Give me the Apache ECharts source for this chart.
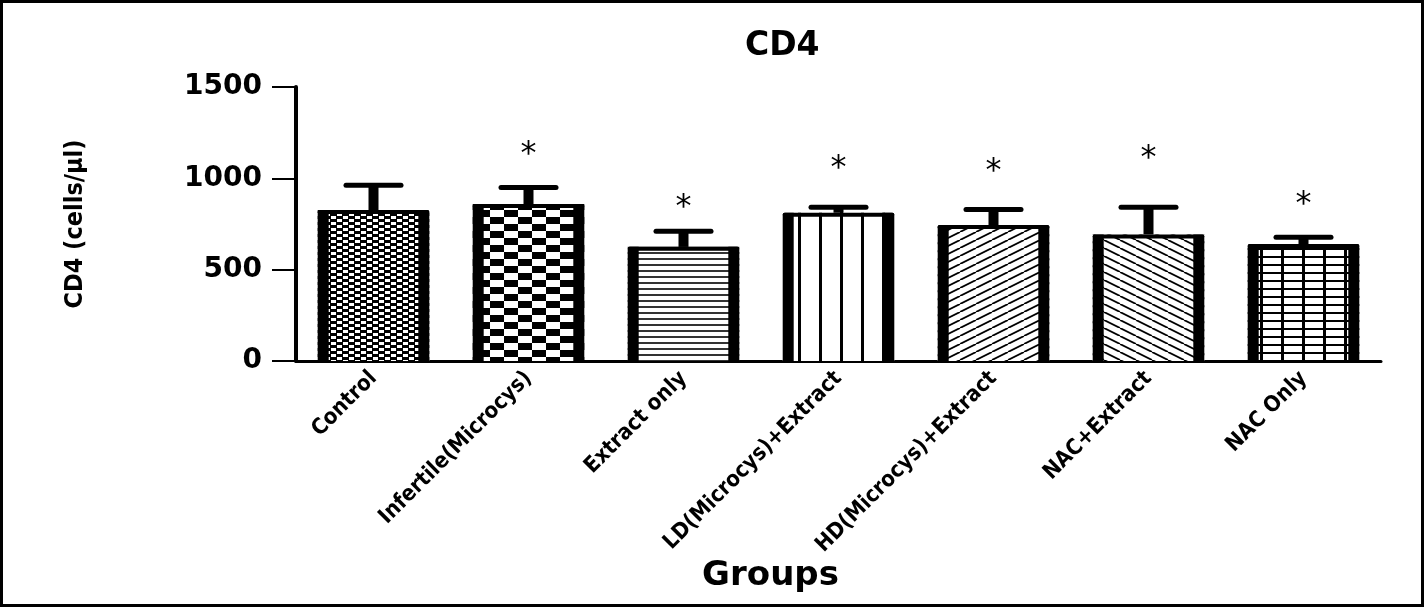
<!DOCTYPE html>
<html>
<head>
    <meta charset="utf-8" />
    <title>CD4</title>
    <script src="https://cdn.jsdelivr.net/npm/echarts@6/dist/echarts.min.js"></script>
    <style>
        html, body { margin: 0; padding: 0; background: #fff; }
        #main { width: 1425px; height: 608px; }
    </style>
</head>
<body>
<div id="main"></div>
<script type="text/javascript">
    // data
    var categories = ['Control', 'Infertile(Microcys)', 'Extract only', 'LD(Microcys)+Extract',
        'HD(Microcys)+Extract', 'NAC+Extract', 'NAC Only'];
    var means = [826, 859, 626, 812, 744, 693, 640];
    var errors = [139, 93, 87, 33, 88, 152, 40];
    var stars = [null, 1166, 876, 1089, 1073, 1144, 892];
    var yTicks = [0, 500, 1000, 1500];

    // fill patterns, one per group
    function makePattern(w, h, draw) {
        var c = document.createElement('canvas');
        c.width = w;
        c.height = h;
        var ctx = c.getContext('2d');
        ctx.fillStyle = '#fff';
        ctx.fillRect(0, 0, w, h);
        ctx.fillStyle = '#000';
        ctx.strokeStyle = '#000';
        draw(ctx, w, h);
        return { image: c, repeat: 'repeat' };
    }
    function diag(ctx, w, h, up) {
        ctx.lineWidth = 1.8;
        for (var k = -2; k <= 2; k++) {
            ctx.beginPath();
            if (up) {
                ctx.moveTo(k * w, h);
                ctx.lineTo(k * w + w, 0);
            } else {
                ctx.moveTo(k * w, 0);
                ctx.lineTo(k * w + w, h);
            }
            ctx.stroke();
        }
    }
    var patterns = [
        makePattern(12, 6, function (ctx) {
            ctx.fillRect(0, 0, 7, 3);
            ctx.fillRect(6, 3, 6, 3);
            ctx.fillRect(0, 3, 1, 3);
        }),
        makePattern(28, 14, function (ctx) {
            ctx.fillRect(0, 0, 14, 7);
            ctx.fillRect(14, 7, 14, 7);
        }),
        makePattern(8, 6, function (ctx) {
            ctx.fillStyle = '#333';
            ctx.fillRect(0, 0, 8, 2);
        }),
        makePattern(21, 8, function (ctx) {
            ctx.fillRect(0, 0, 3, 8);
        }),
        makePattern(16, 8, function (ctx, w, h) { diag(ctx, w, h, true); }),
        makePattern(16, 8, function (ctx, w, h) { diag(ctx, w, h, false); }),
        makePattern(21, 8, function (ctx) {
            ctx.fillRect(0, 0, 3, 8);
            ctx.fillRect(0, 0, 21, 2);
        })
    ];

    var barData = [];
    var starData = [];
    for (var i = 0; i < categories.length; i++) {
        barData.push([i, means[i], errors[i]]);
        if (stars[i] != null) starData.push([i, stars[i]]);
    }

    function renderBar(params, api) {
        var idx = api.value(0);
        var base = api.coord([idx, 0]);
        var top = api.coord([idx, api.value(1)]);
        var errTop = api.coord([idx, api.value(1) + api.value(2)]);
        var bw = api.size([1, 0])[0] * 0.72;
        var x0 = base[0] - bw / 2;
        var h = base[1] - top[1];
        var side = 11;
        return {
            type: 'group',
            children: [
                { type: 'rect', shape: { x: base[0] - 5, y: errTop[1], width: 10, height: top[1] - errTop[1] + 2 }, style: { fill: '#000' } },
                { type: 'rect', shape: { x: base[0] - 30, y: errTop[1] - 2, width: 60, height: 5, r: 2.5 }, style: { fill: '#000' } },
                { type: 'rect', shape: { x: x0, y: top[1], width: bw, height: h }, style: { fill: patterns[idx] } },
                { type: 'rect', shape: { x: x0, y: top[1], width: side, height: h, r: [2, 0, 0, 0] }, style: { fill: '#000' } },
                { type: 'rect', shape: { x: x0 + bw - side, y: top[1], width: side, height: h, r: [0, 2, 0, 0] }, style: { fill: '#000' } },
                { type: 'rect', shape: { x: x0, y: top[1], width: bw, height: 4, r: 2 }, style: { fill: '#000' } }
            ]
        };
    }

    function renderStar(params, api) {
        var p = api.coord([api.value(0), api.value(1)]);
        return {
            type: 'text',
            style: {
                text: '*', x: p[0], y: p[1] + 7,
                align: 'center', verticalAlign: 'middle',
                font: '32px "DejaVu Sans"', fill: '#000'
            }
        };
    }

    var myChart = echarts.init(document.getElementById('main'));
    var option = {
        backgroundColor: '#fff',
        animation: false,
        title: {
            text: 'CD4',
            left: 740,
            top: 25,
            textStyle: { fontFamily: 'DejaVu Sans', fontWeight: 'bold', fontSize: 33, color: '#000' }
        },
        graphic: [{
            type: 'rect',
            shape: { x: 1.5, y: 1.5, width: 1421, height: 604 },
            style: { fill: null, stroke: '#000', lineWidth: 3 }
        }],
        grid: { left: 296, right: 44, top: 87, bottom: 247 },
        xAxis: {
            type: 'category',
            data: categories,
            name: 'Groups',
            nameLocation: 'middle',
            nameGap: 193,
            nameTextStyle: {
                fontFamily: 'DejaVu Sans', fontWeight: 'bold', fontSize: 34, color: '#000',
                padding: [0, 136, 0, 0]
            },
            axisLine: { lineStyle: { color: '#000', width: 3 } },
            axisTick: { alignWithLabel: true, length: 8, lineStyle: { color: '#000', width: 4 } },
            axisLabel: {
                rotate: 45, margin: 14, interval: 0,
                fontFamily: 'DejaVu Sans Condensed', fontWeight: 'bold', fontSize: 22, color: '#000'
            }
        },
        yAxis: {
            type: 'value',
            min: yTicks[0],
            max: yTicks[yTicks.length - 1],
            interval: 500,
            name: 'CD4 (cells/µl)',
            nameLocation: 'middle',
            nameRotate: 90,
            nameGap: 208,
            nameTextStyle: { fontFamily: 'DejaVu Sans Condensed', fontWeight: 'bold', fontSize: 25, color: '#000' },
            axisLine: { show: true, lineStyle: { color: '#000', width: 4 } },
            axisTick: { show: true, length: 24, lineStyle: { color: '#000', width: 2 } },
            axisLabel: {
                margin: 34, fontFamily: 'DejaVu Sans', fontWeight: 'bold', fontSize: 28, color: '#000',
                formatter: function (v) { return String(v); }
            },
            splitLine: { show: false }
        },
        series: [
            { type: 'custom', renderItem: renderBar, data: barData, z: 3 },
            { type: 'custom', renderItem: renderStar, data: starData, z: 4 }
        ]
    };
    myChart.setOption(option);
</script>
</body>
</html>
